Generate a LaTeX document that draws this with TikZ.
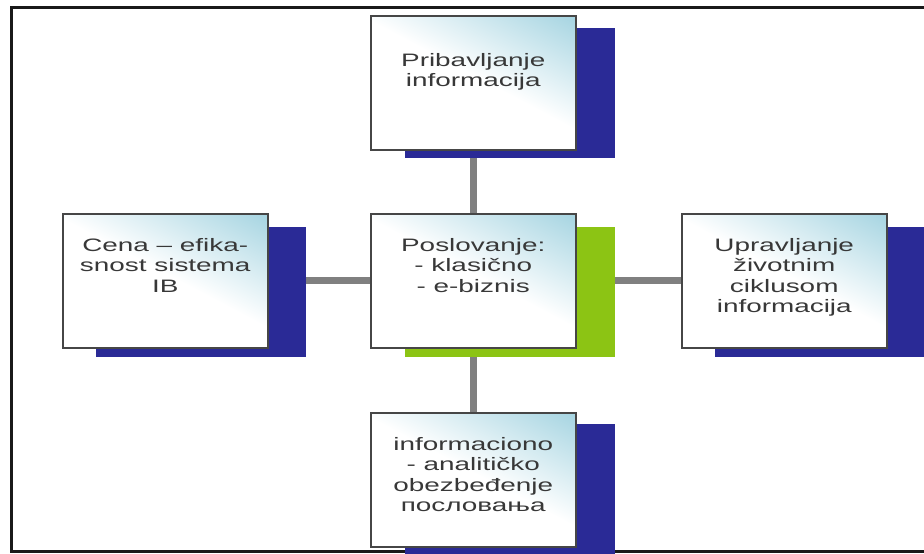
\documentclass[tikz,border=0pt]{standalone}
\usepackage{fontspec}
\setmainfont{Liberation Sans}
\newfontfamily\boxfont[FakeStretch=1.55]{Liberation Sans}
\definecolor{shadowblue}{RGB}{42,42,150}
\definecolor{shadowgreen}{RGB}{140,196,20}
\definecolor{boxcyan}{RGB}{165,212,225}
\definecolor{boxborder}{RGB}{70,70,70}
\definecolor{linkgray}{RGB}{128,128,128}
\definecolor{framecol}{RGB}{25,25,25}
\pgfdeclareverticalshading{boxshade}{100bp}{color(0bp)=(white); color(52bp)=(white); color(84bp)=(boxcyan); color(100bp)=(boxcyan)}
\pgfdeclarelayer{bg}
\pgfsetlayers{bg,main}
\tikzset{
  infobox/.style={draw=boxborder, line width=1.5pt, shading=boxshade, shading angle=-28,
    minimum width=205pt, minimum height=134pt, inner sep=0pt, anchor=north west},
  shadowbox/.style={fill=#1, draw=none, minimum width=210pt, minimum height=130pt,
    inner sep=0pt, anchor=north west},
  boxtext/.style={font=\boxfont\fontsize{18}{20.5}\selectfont, align=center, anchor=north,
    inner sep=0pt, text=black!78},
  link/.style={draw=linkgray, line width=7pt},
  framebox/.style={draw=framecol, line width=3pt}
}
\begin{document}
\begin{tikzpicture}[x=1pt,y=-1pt]
\useasboundingbox (0,0) rectangle (924,554);
\clip (0,0) rectangle (924,554);
\draw[framebox] (11,7) rectangle (940,551);
% shadows
\node[shadowbox=shadowblue] (topS) at (405,28) {};
\node[shadowbox=shadowblue] (leftS) at (96,227) {};
\node[shadowbox=shadowgreen] (centerS) at (405,227) {};
\node[shadowbox=shadowblue] (rightS) at (715,227) {};
\node[shadowbox=shadowblue, minimum height=135pt] (bottomS) at (405,424) {};
% boxes
\node[infobox] (top) at (370,15) {};
\node[infobox] (left) at (62,213) {};
\node[infobox] (center) at (370,213) {};
\node[infobox] (right) at (681,213) {};
\node[infobox] (bottom) at (370,412) {};
% texts
\node[boxtext] (topT) at ([yshift=-38pt]top.north) {Pribavljanje\\informacija};
\node[boxtext] (leftT) at ([yshift=-25pt]left.north) {Cena – efika-\\snost sistema\\IB};
\node[boxtext] (centerT) at ([yshift=-25pt]center.north) {Poslovanje:\\- klasično\\- e-biznis};
\node[boxtext] (rightT) at ([yshift=-25pt]right.north) {Upravljanje\\životnim\\ciklusom\\informacija};
\node[boxtext] (bottomT) at ([yshift=-25pt]bottom.north) {informaciono\\- analitičko\\obezbeđenje\\пословања};
% connectors
\begin{pgfonlayer}{bg}
\draw[link] (top.south) -- (center.north);
\draw[link] (left.east) -- (center.west);
\draw[link] (center.east) -- (right.west);
\draw[link] (center.south) -- (bottom.north);
\end{pgfonlayer}
\end{tikzpicture}
\end{document}
